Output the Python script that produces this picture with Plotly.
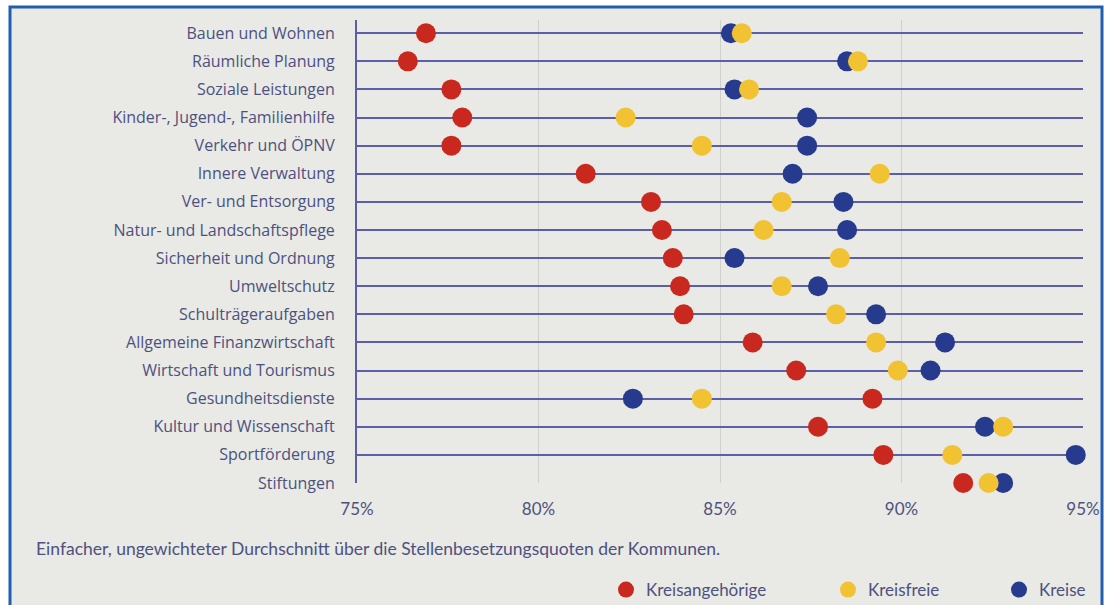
import plotly.graph_objects as go

categories = [
    "Bauen und Wohnen", "Räumliche Planung", "Soziale Leistungen",
    "Kinder-, Jugend-, Familienhilfe", "Verkehr und ÖPNV", "Innere Verwaltung",
    "Ver- und Entsorgung", "Natur- und Landschaftspflege", "Sicherheit und Ordnung",
    "Umweltschutz", "Schulträgeraufgaben", "Allgemeine Finanzwirtschaft",
    "Wirtschaft und Tourismus", "Gesundheitsdienste", "Kultur und Wissenschaft",
    "Sportförderung", "Stiftungen",
]
kreisangehoerige = [76.9, 76.4, 77.6, 77.9, 77.6, 81.3, 83.1, 83.4, 83.7, 83.9,
                    84.0, 85.9, 87.1, 89.2, 87.7, 89.5, 91.7]
kreisfreie = [85.6, 88.8, 85.8, 82.4, 84.5, 89.4, 86.7, 86.2, 88.3, 86.7,
              88.2, 89.3, 89.9, 84.5, 92.8, 91.4, 92.4]
kreise = [85.3, 88.5, 85.4, 87.4, 87.4, 87.0, 88.4, 88.5, 85.4, 87.7,
          89.3, 91.2, 90.8, 82.6, 92.3, 94.8, 92.8]
x_ticks = [75, 80, 85, 90, 95]
x_labels = ["75%", "80%", "85%", "90%", "95%"]
footnote = "Einfacher, ungewichteter Durchschnitt über die Stellenbesetzungsquoten der Kommunen."

W, H = 1105, 605
L, R, T, B = 357, 22, 20, 122
pw, ph = W - L - R, H - T - B

def px(x):
    return (x - L) / pw

def py(y):
    return (H - B - y) / ph

TEXT = "#4d5180"
LINE = "#5c5fa8"
BG = "#e9e9e5"
SMALL = "Lato"

fig = go.Figure()
# drawn back to front: blue, yellow, red; each with its own legend box
series = [
    ("Kreise", kreise, "#263a8e", "legend3"),
    ("Kreisfreie", kreisfreie, "#f1c232", "legend2"),
    ("Kreisangehörige", kreisangehoerige, "#c9281e", "legend"),
]
for name, vals, col, leg in series:
    fig.add_trace(go.Scatter(
        x=vals, y=categories, mode="markers", name=name, cliponaxis=False,
        marker=dict(size=20, color=col, line=dict(width=0)), legend=leg,
        showlegend=True,
    ))

def legend_box(x_left):
    return dict(
        x=px(x_left), y=py(590), yanchor="middle", xanchor="left",
        orientation="h", bgcolor="rgba(0,0,0,0)",
        font=dict(family=SMALL, size=17, color=TEXT),
    )

fig.update_layout(
    width=W, height=H, showlegend=True,
    margin=dict(l=L, r=R, t=T, b=B, autoexpand=False),
    paper_bgcolor="white",
    plot_bgcolor="rgba(0,0,0,0)",
    font=dict(family="Open Sans", color=TEXT, size=14),
    xaxis=dict(
        range=[75, 95], tickvals=x_ticks, ticktext=x_labels, automargin=False,
        showgrid=True, gridcolor="#cfcfcc", gridwidth=1, zeroline=False,
        showline=False, ticks="", ticklabelstandoff=14,
        tickfont=dict(family=SMALL, size=17, color=TEXT),
    ),
    yaxis=dict(
        type="category", categoryorder="array", categoryarray=categories,
        range=[16, -0.47], showgrid=True, gridcolor=LINE, gridwidth=2,
        showline=True, linecolor=LINE, linewidth=2, zeroline=False,
        ticks="", ticklabelstandoff=17, automargin=False,
        tickfont=dict(family="Open Sans", size=16, color=TEXT),
    ),
    legend=legend_box(606),
    legend2=legend_box(828),
    legend3=legend_box(999),
    shapes=[dict(
        type="rect", xref="paper", yref="paper",
        x0=px(10), x1=px(1102), y0=py(640), y1=py(7),
        fillcolor=BG, line=dict(color="#1e5fb0", width=3), layer="below",
    )],
    annotations=[dict(
        text=footnote, xref="paper", yref="paper",
        x=px(34), y=py(548), xanchor="left", yanchor="middle", showarrow=False,
        font=dict(family=SMALL, size=17.5, color=TEXT),
    )],
)

fig.write_html("out.html", config={"displayModeBar": False},
               post_script="document.body.style.margin='0';")
